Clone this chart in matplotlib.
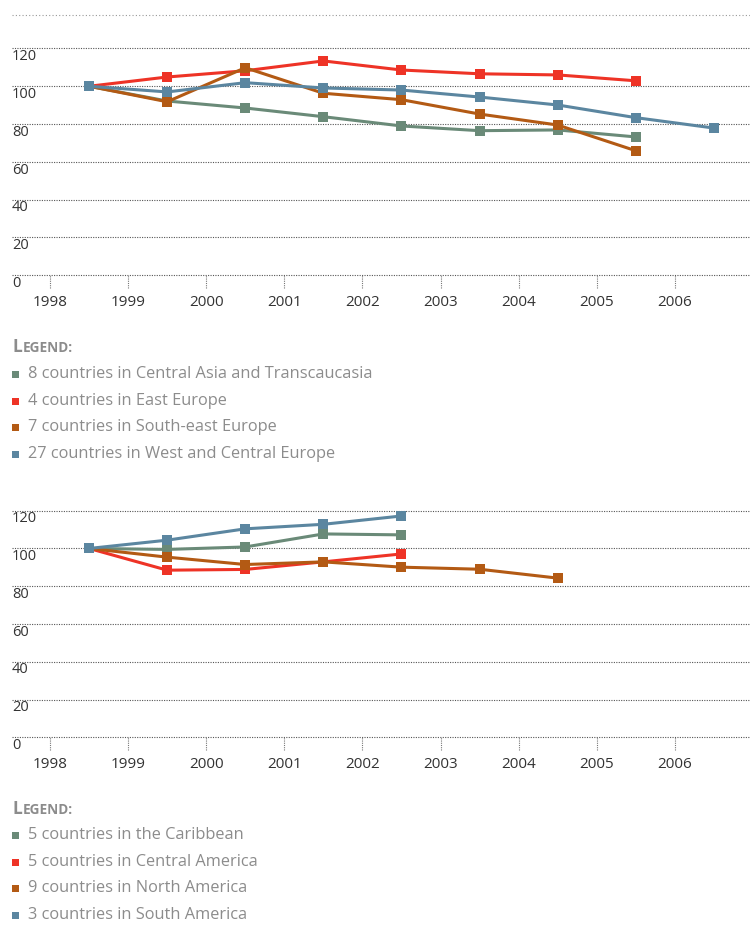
import numpy as np
import matplotlib
matplotlib.use("Agg")
import matplotlib.pyplot as plt
from matplotlib.patches import Rectangle

plt.rcParams['font.family'] = ['Open Sans', 'DejaVu Sans']

# ---------------- data ----------------
years = [1998, 1999, 2000, 2001, 2002, 2003, 2004, 2005, 2006]
year_labels = ['1998', '1999', '2000', '2001', '2002', '2003', '2004', '2005', '2006']
y_ticks = [0, 20, 40, 60, 80, 100, 120]

# Chart 1 (Europe / Central Asia)
c1_central_asia = [100, 92.2, 88.5, 83.9, 79.0, 76.5, 76.9, 73.2]
c1_east_europe = [100, 104.9, 108.2, 113.4, 108.6, 106.6, 106.0, 102.9]
c1_south_east_europe = [100, 91.8, 109.8, 96.3, 92.9, 85.3, 79.5, 65.9]
c1_west_central_europe = [100, 97.0, 101.9, 99.1, 98.0, 94.3, 90.1, 83.4, 77.9]
c1_labels = ['8 countries in Central Asia and Transcaucasia',
             '4 countries in East Europe',
             '7 countries in South-east Europe',
             '27 countries in West and Central Europe']

# Chart 2 (Americas)
c2_caribbean = [100, 99.5, 100.8, 107.7, 107.2]
c2_central_america = [100, 88.5, 88.9, 92.9, 97.1]
c2_north_america = [100, 95.4, 91.5, 92.9, 90.1, 89.0, 84.3]
c2_south_america = [100, 104.4, 110.4, 112.8, 117.2]
c2_labels = ['5 countries in the Caribbean',
             '5 countries in Central America',
             '9 countries in North America',
             '3 countries in South America']

colors = ['#6a8a78', '#ee3326', '#b35a14', '#5b86a0']

W, H = 750, 951
fig = plt.figure(figsize=(W / 100, H / 100), dpi=100)


def px_rect(left, top, right, bottom):
    return [left / W, 1 - bottom / H, (right - left) / W, (bottom - top) / H]


def draw_chart(ax, series, ytop, top_line):
    ax.set_xlim(1997.513, 2006.963)
    ax.set_ylim(0, ytop)
    for s in ax.spines.values():
        s.set_visible(False)
    ax.set_yticks([])
    ax.set_xticks(years)
    ax.set_xticklabels(year_labels, fontsize=11, color='#333333')
    ax.tick_params(axis='x', length=0, pad=14)
    grid_kw = dict(color='#555555', linewidth=0.8, linestyle=(0, (1, 1.2)),
                   zorder=1, clip_on=False)
    for v in y_ticks:
        ax.axhline(v, **grid_kw)
        ax.annotate(str(v), xy=(0, v), xycoords=('axes fraction', 'data'),
                    xytext=(0, -0.5), textcoords='offset points',
                    ha='left', va='top', fontsize=10.5, color='#333333')
    if top_line:
        ax.axhline(ytop, color='#999999', linewidth=0.8,
                   linestyle=(0, (1, 2)), zorder=1, clip_on=False)
    # dotted year ticks below the axis
    ax_h_px = ax.get_position().height * H
    ax.vlines(years, -13 / ax_h_px, 0, transform=ax.get_xaxis_transform(),
              colors='#777777', linewidth=0.8, linestyles=(0, (1, 1)),
              clip_on=False)
    x0 = np.array(years) + 0.5
    for vals, col in zip(series, colors):
        n = len(vals)
        ax.plot(x0[:n], vals, color=col, linewidth=2.2, marker='s',
                markersize=6.5, markeredgewidth=0, zorder=3, clip_on=False)


def draw_legend(baseline_y, item_ys, labels):
    t = fig.text(12 / W, 1 - baseline_y / H, 'L', fontsize=12.5,
                 fontweight='bold', color='#8c8c8c', ha='left', va='baseline')
    fig.canvas.draw()
    ext = t.get_window_extent()
    fig.text((ext.x1 + 0.8) / W, 1 - baseline_y / H, 'EGEND:', fontsize=9.8,
             fontweight='bold', color='#8c8c8c', ha='left', va='baseline')
    for yy, lab, col in zip(item_ys, labels, colors):
        fig.add_artist(Rectangle((12 / W, 1 - (yy + 4.5) / H), 6.5 / W, 6.5 / H,
                                 transform=fig.transFigure, color=col, lw=0))
        fig.text(28 / W, 1 - (yy + 1) / H, lab, fontsize=11.8, color='#8c8c8c',
                 ha='left', va='center')


ax1 = fig.add_axes(px_rect(12, 15, 750, 275.3))
draw_chart(ax1, [c1_central_asia, c1_east_europe, c1_south_east_europe,
                 c1_west_central_europe], 137.7, True)

ax2 = fig.add_axes(px_rect(12, 510.7, 750, 737.3))
draw_chart(ax2, [c2_caribbean, c2_central_america, c2_north_america,
                 c2_south_america], 120, False)

draw_legend(352, [373, 400, 426, 453], c1_labels)
draw_legend(814, [834, 861, 887, 914], c2_labels)

fig.savefig('out.png', dpi=100)
